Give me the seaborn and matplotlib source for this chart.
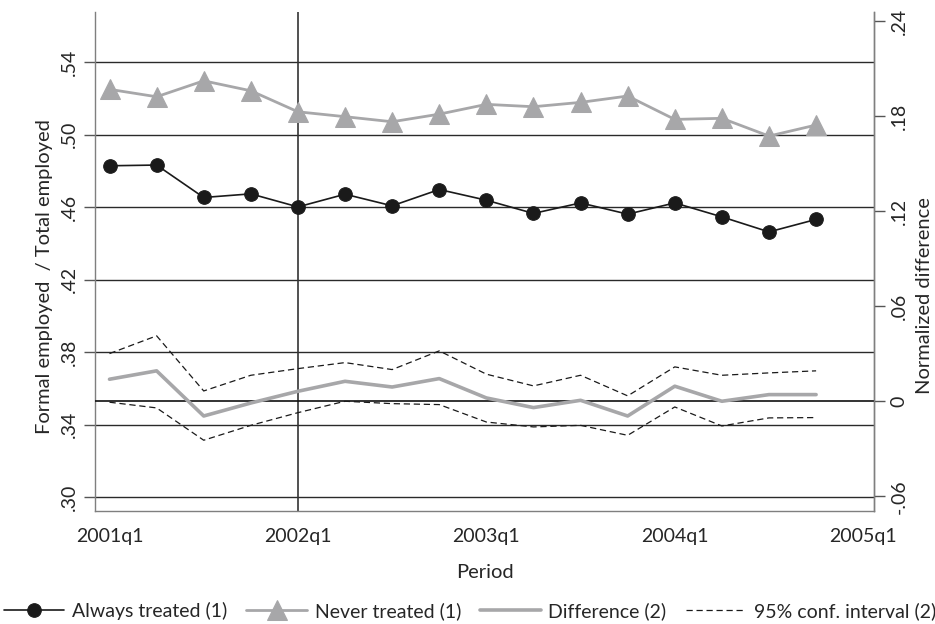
import numpy as np
import pandas as pd
import matplotlib
matplotlib.use("Agg")
import matplotlib.pyplot as plt
import seaborn as sns

# Quarterly series, 2001q1 .. 2004q4
quarters = [f"{y}q{q}" for y in range(2001, 2005) for q in range(1, 5)]
always_treated = [0.4829, 0.4833, 0.4654, 0.4674, 0.4602, 0.4672, 0.4608, 0.4698,
                  0.4639, 0.4566, 0.4624, 0.4562, 0.4624, 0.4547, 0.4464, 0.4533]
never_treated = [0.5251, 0.5210, 0.5298, 0.5243, 0.5127, 0.5100, 0.5072, 0.5114,
                 0.5168, 0.5155, 0.5179, 0.5214, 0.5085, 0.5091, 0.4993, 0.5054]
difference = [0.0139, 0.0192, -0.0093, -0.0011, 0.0063, 0.0126, 0.0090, 0.0143,
              0.0021, -0.0040, 0.0006, -0.0093, 0.0095, 0.0000, 0.0042, 0.0042]
ci_upper = [0.0301, 0.0413, 0.0065, 0.0164, 0.0206, 0.0244, 0.0200, 0.0318,
            0.0171, 0.0097, 0.0164, 0.0034, 0.0217, 0.0164, 0.0179, 0.0192]
ci_lower = [-0.0006, -0.0042, -0.0246, -0.0152, -0.0072, 0.0000, -0.0015, -0.0021,
            -0.0131, -0.0162, -0.0152, -0.0215, -0.0036, -0.0156, -0.0105, -0.0103]

left_ticks = [0.30, 0.34, 0.38, 0.42, 0.46, 0.50, 0.54]
left_labels = [".30", ".34", ".38", ".42", ".46", ".50", ".54"]
right_ticks = [-0.06, 0.0, 0.06, 0.12, 0.18, 0.24]
right_labels = ["-.06", "0", ".06", ".12", ".18", ".24"]
x_tick_pos = [0, 4, 8, 12, 16]
x_tick_labels = ["2001q1", "2002q1", "2003q1", "2004q1", "2005q1"]

df = pd.DataFrame({
    "t": np.arange(len(quarters)),
    "quarter": quarters,
    "always": always_treated,
    "never": never_treated,
    "diff": difference,
    "upper": ci_upper,
    "lower": ci_lower,
})

sns.set_style("white")
plt.rcParams["font.family"] = ["Lato", "DejaVu Sans"]

fig = plt.figure(figsize=(9.35, 6.24), dpi=100)
ax = fig.add_axes([0.1016, 0.181, 0.8332, 0.7998])
ax2 = ax.twinx()

grid_col = "#2a2a2a"
spine_col = "#7f7f7f"
gray = "#a7a7a9"
fs_tick = 14
fs_label = 14.5

# reference lines
for v in left_ticks:
    ax.axhline(v, color=grid_col, lw=1.0, zorder=0)
ax.axvline(4, color="#333333", lw=1.2, zorder=0)
ax2.axhline(0, color="#111111", lw=1.2, zorder=0)

# left-axis series
sns.lineplot(data=df, x="t", y="always", ax=ax, color="#1a1a1a", lw=1.2,
             marker="o", markersize=9.8, markeredgecolor="#1a1a1a",
             label="Always treated (1)", legend=False, zorder=3)
sns.lineplot(data=df, x="t", y="never", ax=ax, color=gray, lw=2.0,
             marker="^", markersize=14, markeredgecolor=gray,
             label="Never treated (1)", legend=False, zorder=3)

# right-axis series
sns.lineplot(data=df, x="t", y="diff", ax=ax2, color=gray, lw=2.6,
             label="Difference (2)", legend=False)
sns.lineplot(data=df, x="t", y="upper", ax=ax2, color="#1a1a1a", lw=0.9,
             label="95% conf. interval (2)", legend=False)
sns.lineplot(data=df, x="t", y="lower", ax=ax2, color="#1a1a1a", lw=0.9,
             legend=False)
ax2_lines = ax2.get_lines()
for ln in ax2_lines[2:]:
    ln.set_linestyle((0, (5, 3)))

ax.set_xlim(-0.308, 16.23)
ax.set_ylim(0.2923, 0.5678)
ax2.set_ylim(-0.0693, 0.2457)

ax.set_xticks(x_tick_pos)
ax.set_xticklabels(x_tick_labels, fontsize=fs_tick)
ax.set_yticks(left_ticks)
ax.set_yticklabels(left_labels, rotation=90, va="center", fontsize=fs_tick)
ax2.set_yticks(right_ticks)
ax2.set_yticklabels(right_labels, rotation=90, va="center", fontsize=fs_tick)

for a in (ax, ax2):
    a.tick_params(direction="out", length=8, width=1, color="#555555", pad=4)
    for s in a.spines.values():
        s.set_color(spine_col)
        s.set_linewidth(1.0)
ax.spines["top"].set_visible(False)
ax2.spines["top"].set_visible(False)
ax2.spines["left"].set_visible(False)
ax2.spines["bottom"].set_visible(False)

ax.set_xlabel("Period", fontsize=fs_label, labelpad=14)
ax.set_ylabel("Formal employed  / Total employed", fontsize=fs_label, labelpad=6)
ax2.set_ylabel("Normalized difference", fontsize=fs_label, labelpad=6)
ax.yaxis.label.set_y(0.469)
ax2.yaxis.label.set_y(0.431)

h1, l1 = ax.get_legend_handles_labels()
h2, l2 = ax2.get_legend_handles_labels()
fig.legend(h1 + h2, l1 + l2, loc="center", bbox_to_anchor=(470 / 935, 1 - 611 / 624),
           ncol=4, frameon=False, handlelength=3.1, columnspacing=1.0,
           handletextpad=0.4, fontsize=fs_tick, borderaxespad=0)

fig.savefig("out.png", dpi=100)
